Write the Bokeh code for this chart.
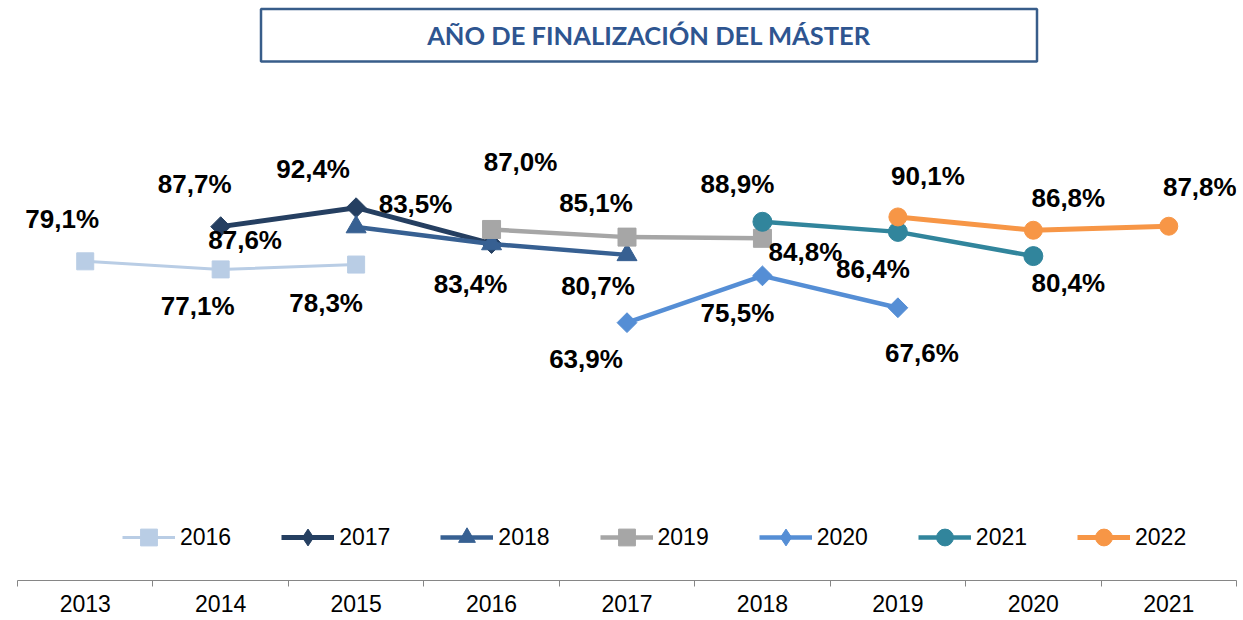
import math
from bokeh.plotting import figure
from bokeh.models import (ColumnDataSource, Range1d, FixedTicker, Legend,
                          LegendItem, BoxAnnotation, Label)
from bokeh.core.properties import value
from bokeh.embed import file_html
from bokeh.resources import INLINE

NA = float("nan")

# ---------------- data ----------------
categories = ["2013", "2014", "2015", "2016", "2017", "2018", "2019", "2020", "2021"]
series_names = ["2016", "2017", "2018", "2019", "2020", "2021", "2022"]

s2016 = [79.1, 77.1, 78.3, NA, NA, NA, NA, NA, NA]
s2017 = [NA, 87.7, 92.4, 83.5, NA, NA, NA, NA, NA]
s2018 = [NA, NA, 87.6, 83.4, 80.7, NA, NA, NA, NA]
s2019 = [NA, NA, NA, 87.0, 85.1, 84.8, NA, NA, NA]
s2020 = [NA, NA, NA, NA, 63.9, 75.5, 67.6, NA, NA]
s2021 = [NA, NA, NA, NA, NA, 88.9, 86.4, 80.4, NA]
s2022 = [NA, NA, NA, NA, NA, NA, 90.1, 86.8, 87.8]
series_values = [s2016, s2017, s2018, s2019, s2020, s2021, s2022]

title_text = "AÑO DE FINALIZACIÓN DEL MÁSTER"

# ---------------- styles ----------------
colors = ["#B9CDE5", "#253F61", "#376092", "#A6A6A6", "#558ED5", "#31859C", "#F79646"]
markers = ["square", "square", "triangle", "square", "square", "circle", "circle"]
legend_markers = ["square", "diamond", "triangle", "square", "diamond", "circle", "circle"]
marker_sizes = [17, 14, 20, 18, 14, 19, 18]
marker_angles = [0, math.pi / 4, 0, 0, math.pi / 4, 0, 0]
line_widths = [3, 5, 4.5, 4.5, 4.5, 4.5, 5]
# data-label offsets in screen pixels (dx right, dy down), one per non-empty point
label_dx = [[-23, -23, -30], [-26, -43, -76], [-111, -21, -29], [29, -31, 43],
            [-41, -25, 24], [-25, -25, 35], [30, 35, 31]]
label_dy = [[-42, 37, 38], [-43, -39, -40], [13, 40, 31], [-67, -34, 14],
            [36, 37, 45], [-38, 37, 27], [-41, -32, -39]]

FONT = "Liberation Sans"
W, H = 1243, 620
BL, BR, BT, BB = 17, 7, 0, 40
frame_w = W - BL - BR
frame_h = H - BT - BB
Y_MAX = frame_h / 4.035
ncat = len(categories)

p = figure(width=W, height=H, output_backend="svg", toolbar_location=None,
           x_range=Range1d(0, ncat), y_range=Range1d(0, Y_MAX),
           y_axis_location=None, min_border_left=BL, min_border_right=BR,
           min_border_top=BT, min_border_bottom=BB)
p.outline_line_color = None
p.xgrid.visible = False
p.ygrid.visible = False
p.background_fill_color = "white"
p.border_fill_color = "white"

# helpers converting page pixel positions (decoration only) into data units
def px_x(px):
    return (px - BL) / frame_w * ncat

def px_y(py):
    return (BT + frame_h - py) / frame_h * Y_MAX

# x axis with separators between categories
centers = [i + 0.5 for i in range(ncat)]
ax = p.xaxis[0]
ax.ticker = FixedTicker(ticks=centers, minor_ticks=list(range(ncat + 1)))
ax.major_label_overrides = {c: cat for c, cat in zip(centers, categories)}
ax.axis_line_color = "#868686"
ax.axis_line_width = 1
ax.major_tick_line_color = None
ax.major_tick_out = 6
ax.major_tick_in = 0
ax.minor_tick_line_color = "#868686"
ax.minor_tick_out = 6
ax.minor_tick_in = 0
ax.major_label_standoff = 8
ax.major_label_text_font = FONT
ax.major_label_text_font_size = "23px"
ax.major_label_text_color = "black"

# title box
p.add_layout(BoxAnnotation(left=px_x(260.5), right=px_x(1036.5), top=px_y(8.5), bottom=px_y(61),
                           fill_color="white", fill_alpha=1.0,
                           line_color="#385D8A", line_alpha=1.0, line_width=2.5))
p.add_layout(Label(x=(px_x(260.5) + px_x(1036.5)) / 2, y=px_y(34), text=title_text,
                   text_align="center", text_baseline="middle",
                   text_font="Lato", text_font_style="bold",
                   text_font_size="25.5px", text_color="#2E5590"))

items = []
label_sources = []
for k, name in enumerate(series_names):
    vals = series_values[k]
    src = ColumnDataSource(dict(x=centers, y=vals))
    lr = p.line("x", "y", source=src, line_color=colors[k], line_width=line_widths[k])
    sr = p.scatter("x", "y", source=src, marker=markers[k], size=marker_sizes[k],
                   angle=marker_angles[k], fill_color=colors[k], line_color=colors[k])
    if legend_markers[k] != markers[k]:
        # legend swatch drawn with an upright diamond (same colour) like the original;
        # its single point is NaN so it draws nothing in the plot area
        dsrc = ColumnDataSource(dict(x=[NA], y=[NA]))
        dr = p.scatter("x", "y", source=dsrc, marker=legend_markers[k], size=marker_sizes[k],
                       fill_color=colors[k], line_color=colors[k])
        items.append(LegendItem(label=name, renderers=[lr, dr]))
    else:
        items.append(LegendItem(label=name, renderers=[lr, sr]))
    xs = [centers[i] for i, v in enumerate(vals) if not math.isnan(v)]
    ys = [v for v in vals if not math.isnan(v)]
    txt = [f"{v:.1f}".replace(".", ",") + "%" for v in ys]
    label_sources.append(ColumnDataSource(dict(x=xs, y=ys, text=txt,
                                               dx=label_dx[k], dy=label_dy[k])))

for src in label_sources:
    p.text("x", "y", text="text", source=src, x_offset="dx", y_offset="dy",
           text_align="center", text_baseline="middle",
           text_font=value(FONT), text_font_style="bold",
           text_font_size="26px", text_color="black")

legend = Legend(items=items, orientation="horizontal", location=(105, 22),
                glyph_width=53, glyph_height=42, label_standoff=5, spacing=50,
                padding=0, margin=0, border_line_color=None,
                background_fill_alpha=0,
                label_text_font=FONT, label_text_font_size="23px",
                label_text_color="black", label_text_baseline="middle")
p.add_layout(legend)

open("out.html", "w").write(file_html(p, INLINE))
